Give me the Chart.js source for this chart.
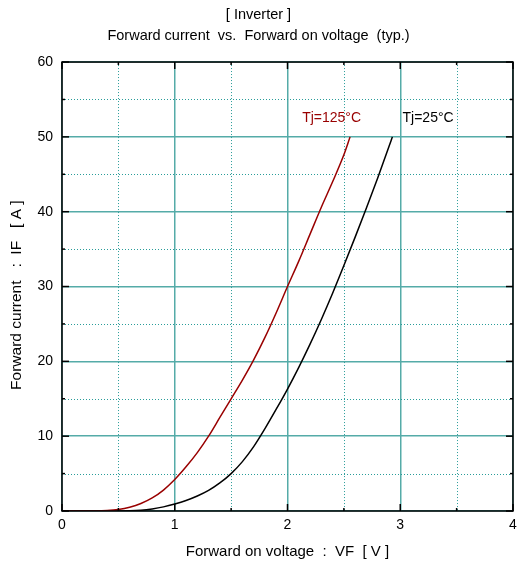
<!DOCTYPE html>
<html>
<head>
<meta charset="utf-8">
<script src="https://cdn.jsdelivr.net/npm/chart.js@4"></script>
<style>
  body { margin: 0; background: #fff; }
  canvas { display: block; }
</style>
</head>
<body>
<canvas id="myChart" width="517" height="569"></canvas>
<script>
// forward voltage [V] / forward current [A]
const vfHot  = [0, 0.3, 0.4, 0.5, 0.6, 0.7, 0.8, 0.9, 1.0, 1.1, 1.2, 1.3, 1.4, 1.5, 1.6, 1.7, 1.8, 1.9, 2.0, 2.1, 2.2, 2.3, 2.4, 2.5, 2.555];
const ifHot  = [0, 0.01, 0.06, 0.2, 0.5, 1.0, 1.75, 2.8, 4.2, 5.9, 7.8, 10, 12.5, 15, 17.5, 20.2, 23.2, 26.5, 30, 33.4, 37, 40.6, 44, 47.6, 50];
const vfRoom = [0, 0.5, 0.6, 0.7, 0.8, 0.9, 1.0, 1.1, 1.2, 1.3, 1.4, 1.5, 1.6, 1.7, 1.8, 1.9, 2.0, 2.1, 2.2, 2.3, 2.4, 2.5, 2.6, 2.7, 2.8, 2.9, 2.93];
const ifRoom = [0, 0, 0.02, 0.1, 0.28, 0.55, 0.93, 1.4, 2.0, 2.75, 3.75, 5.0, 6.6, 8.6, 11, 13.6, 16.3, 19.2, 22.3, 25.6, 29.1, 32.8, 36.6, 40.5, 44.5, 48.7, 50];
const seriesNames = ["Tj=125°C", "Tj=25°C"];
const xTicks = [0, 1, 2, 3, 4];
const yTicks = [0, 10, 20, 30, 40, 50, 60];

// where the curve labels sit, in data units
const labelSpots = [
  { text: seriesNames[0], x: 2.13, y: 52.5, color: "#990000" },
  { text: seriesNames[1], x: 3.02, y: 52.5, color: "#000000" }
];

function toPoints(xs, ys) {
  return xs.map((x, i) => ({ x: x, y: ys[i] }));
}

const FONT = "'Liberation Sans', Arial, sans-serif";
const teal = "#55aba8";

// dotted minor grid, inner tick marks, frame and curve labels
const framePlugin = {
  id: "frame",
  beforeDatasetsDraw(chart) {
    const ctx = chart.ctx;
    const a = chart.chartArea;
    const xs = chart.scales.x, ys = chart.scales.y;
    ctx.save();
    ctx.strokeStyle = "#2a9d9a";
    ctx.lineWidth = 1;
    ctx.setLineDash([1, 2]);
    for (let i = 0; i < xTicks.length - 1; i++) {
      const px = Math.round(xs.getPixelForValue((xTicks[i] + xTicks[i + 1]) / 2)) + 0.5;
      ctx.beginPath(); ctx.moveTo(px, a.top); ctx.lineTo(px, a.bottom); ctx.stroke();
    }
    for (let i = 0; i < yTicks.length - 1; i++) {
      const py = Math.round(ys.getPixelForValue((yTicks[i] + yTicks[i + 1]) / 2)) + 0.5;
      ctx.beginPath(); ctx.moveTo(a.left, py); ctx.lineTo(a.right, py); ctx.stroke();
    }
    ctx.restore();
  },
  afterDatasetsDraw(chart) {
    const ctx = chart.ctx;
    const a = chart.chartArea;
    const xs = chart.scales.x, ys = chart.scales.y;
    ctx.save();
    ctx.strokeStyle = "#000";
    ctx.lineWidth = 1.5;
    ctx.strokeRect(a.left, a.top, a.right - a.left, a.bottom - a.top);

    const tick = (px, py, dx, dy) => {
      ctx.beginPath(); ctx.moveTo(px, py); ctx.lineTo(px + dx, py + dy); ctx.stroke();
    };
    for (let i = 0; i < xTicks.length; i++) {
      const px = xs.getPixelForValue(xTicks[i]);
      tick(px, a.bottom, 0, -7); tick(px, a.top, 0, 7);
      if (i < xTicks.length - 1) {
        const mx = xs.getPixelForValue((xTicks[i] + xTicks[i + 1]) / 2);
        tick(mx, a.bottom, 0, -3); tick(mx, a.top, 0, 3);
      }
    }
    for (let i = 0; i < yTicks.length; i++) {
      const py = ys.getPixelForValue(yTicks[i]);
      tick(a.left, py, 7, 0); tick(a.right, py, -7, 0);
      if (i < yTicks.length - 1) {
        const my = ys.getPixelForValue((yTicks[i] + yTicks[i + 1]) / 2);
        tick(a.left, my, 3, 0); tick(a.right, my, -3, 0);
      }
    }

    ctx.font = "14px " + FONT;
    ctx.textBaseline = "middle";
    ctx.textAlign = "left";
    labelSpots.forEach(l => {
      ctx.fillStyle = l.color;
      ctx.fillText(l.text, xs.getPixelForValue(l.x), ys.getPixelForValue(l.y));
    });
    ctx.restore();
  }
};

const data = {
  datasets: [{
    label: seriesNames[0],
    data: toPoints(vfHot, ifHot),
    borderColor: "#990000",
    borderWidth: 1.5,
    pointRadius: 0,
    showLine: true,
    cubicInterpolationMode: "monotone"
  }, {
    label: seriesNames[1],
    data: toPoints(vfRoom, ifRoom),
    borderColor: "#000000",
    borderWidth: 1.5,
    pointRadius: 0,
    showLine: true,
    cubicInterpolationMode: "monotone"
  }]
};

const config = {
  type: "scatter",
  data,
  options: {
    responsive: false,
    animation: false,
    layout: { padding: 0 },
    plugins: {
      legend: { display: false },
      tooltip: { enabled: false },
      title: {
        display: true,
        text: ["[ Inverter ]", "Forward current  vs.  Forward on voltage  (typ.)"],
        color: "#000",
        font: { family: FONT, size: 14.5, weight: "normal", lineHeight: 1.45 },
        padding: { top: 4, bottom: 16 }
      }
    },
    scales: {
      x: {
        type: "linear",
        min: 0, max: 4,
        afterFit(scale) {
          scale.height = 58;
          scale.paddingLeft = 0;
          scale.paddingRight = 4;
        },
        ticks: { stepSize: 1, padding: 6, color: "#000", font: { family: FONT, size: 14 } },
        grid: { color: teal, lineWidth: 1.5, drawTicks: false },
        border: { display: false },
        title: {
          display: true,
          text: "Forward on voltage  :  VF  [ V ]",
          color: "#000",
          font: { family: FONT, size: 15 },
          padding: { bottom: 8 }
        }
      },
      y: {
        min: 0, max: 60,
        afterFit(scale) { scale.width = 62; },
        ticks: { stepSize: 10, padding: 9, color: "#000", font: { family: FONT, size: 14 } },
        grid: { color: teal, lineWidth: 1.5, drawTicks: false },
        border: { display: false },
        title: {
          display: true,
          // trailing spaces push the text a little below the plot centre, as in the original
          text: "Forward current   :  IF   [ A ]    ",
          color: "#000",
          font: { family: FONT, size: 15.5 },
          padding: { top: 7 }
        }
      }
    }
  },
  plugins: [framePlugin]
};

const myChart = new Chart(document.getElementById("myChart"), config);
</script>
</body>
</html>
